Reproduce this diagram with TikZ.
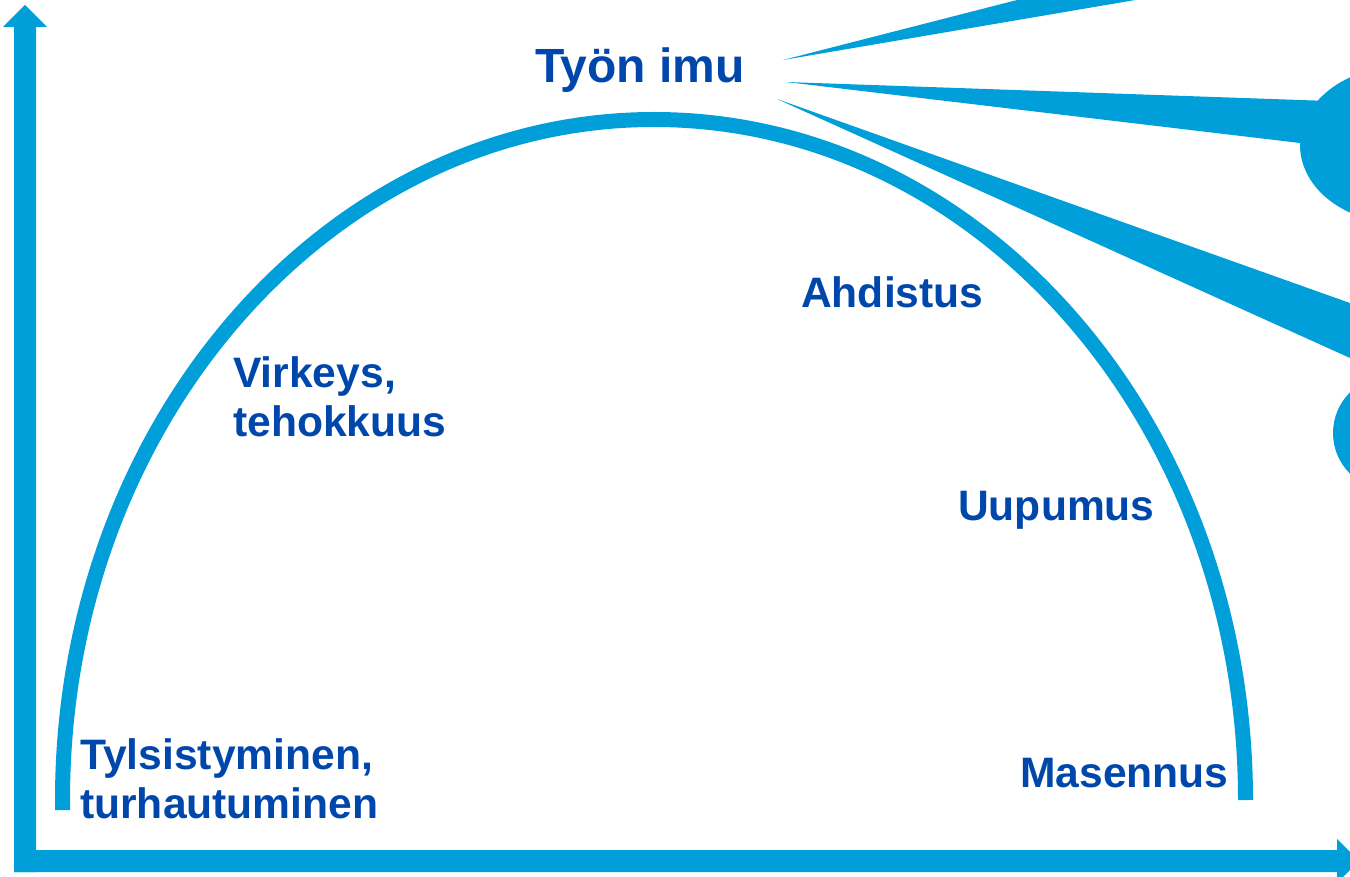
\documentclass[tikz,border=0pt]{standalone}
\usepackage{fontspec}
\setmainfont{Liberation Sans}
\definecolor{lineblue}{HTML}{009FDA}
\definecolor{textblue}{HTML}{0047AB}
\begin{document}
\begin{tikzpicture}[x=1pt,y=-1pt,
  lbl/.style={text=textblue, font=\bfseries\fontsize{42.6}{49}\selectfont, inner sep=0pt, anchor=base west, align=left},
  bigl/.style={lbl, font=\bfseries\fontsize{48}{56}\selectfont},
  blueshape/.style={fill=lineblue, draw=none}]
\useasboundingbox (0,0) rectangle (1350,877);
\clip (0,0) rectangle (1350,877);
% rays from "Tyon imu"
\fill[blueshape] (783,60) -- (1056,-10) -- (1194,-10) -- cycle;
\fill[blueshape] (786,82) -- (1320,100.7) -- (1380,120) -- (1300,143) -- cycle;
\fill[blueshape] (1400,145) ellipse[x radius=100, y radius=78];
\fill[blueshape] (777,99) -- (1360,306.6) -- (1360,362.5) -- cycle;
\fill[blueshape] (1390,433) circle[radius=57];
% curve
\draw[lineblue, line width=15pt] (62.5,810) -- (62.5,800)
  arc[start angle=180, end angle=360, x radius=591.5, y radius=680.5];
% axes
\fill[blueshape] (14,872) -- (14,27) -- (3,27) -- (25,5) -- (47,27) -- (36,27) -- (36,872) -- cycle;
\fill[blueshape] (14,850) -- (1337,850) -- (1337,839) -- (1359,861) -- (1337,883) -- (1337,872) -- (14,872) -- cycle;
% labels
\node[bigl] (imu) at (535,83) {Työn imu};
\node[lbl] (ahd) at (801,308) {Ahdistus};
\node[lbl] (virk) at (233,436) {Virkeys,\\tehokkuus};
\node[lbl] (tyl) at (80,818) {Tylsistyminen,\\turhautuminen};
\node[lbl] (uup) at (958,520) {Uupumus};
\node[lbl] (mas) at (1020,787) {Masennus};
\end{tikzpicture}
\end{document}
